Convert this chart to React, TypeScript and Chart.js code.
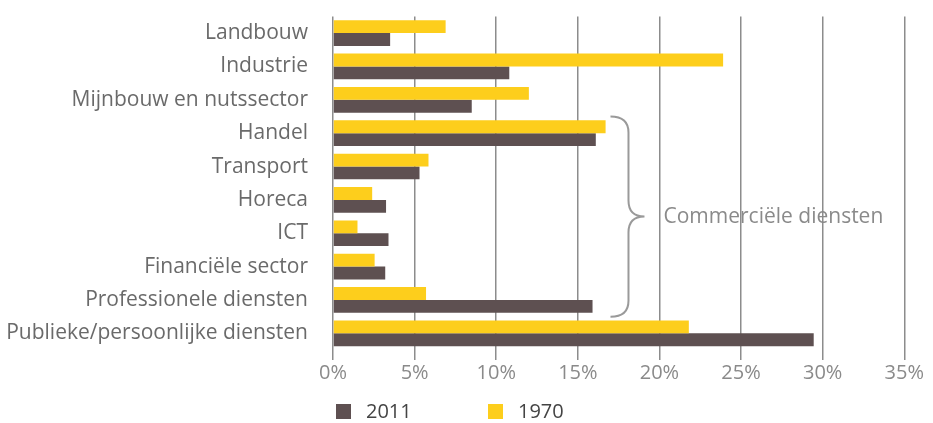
import React, { useEffect, useRef } from "react";
import { Chart, registerables } from "chart.js";

Chart.register(...registerables);

const categories = [
  "Landbouw",
  "Industrie",
  "Mijnbouw en nutssector",
  "Handel",
  "Transport",
  "Horeca",
  "ICT",
  "Financiële sector",
  "Professionele diensten",
  "Publieke/persoonlijke diensten",
];
const values1970 = [6.9, 23.9, 12.0, 16.7, 5.85, 2.4, 1.5, 2.55, 5.7, 21.8];
const values2011 = [3.5, 10.8, 8.5, 16.1, 5.3, 3.25, 3.4, 3.2, 15.9, 29.45];
const seriesNames = ["1970", "2011"];
const xMax = 35;
const xStep = 5;
const braceLabel = "Commerciële diensten";
const braceFrom = 3;
const braceTo = 8;
const braceAt = 17;

const YELLOW = "#FDCE1C";
const BROWN = "#5E5051";
const FONT = "'Open Sans', sans-serif";

const bracePlugin = {
  id: "brace",
  afterDatasetsDraw(chart: any) {
    const { ctx, scales } = chart;
    const x = scales.x;
    const y = scales.y;
    const x0 = x.getPixelForValue(braceAt);
    const step = y.getPixelForValue(1) - y.getPixelForValue(0);
    const top = y.getPixelForValue(braceFrom) - step / 2;
    const bot = y.getPixelForValue(braceTo) + step / 2;
    const mid = (top + bot) / 2;
    const w = 18;
    const tip = 16;
    const r = 16;
    ctx.save();
    ctx.strokeStyle = "#9a9a9a";
    ctx.lineWidth = 2;
    ctx.beginPath();
    ctx.moveTo(x0, top);
    ctx.quadraticCurveTo(x0 + w, top, x0 + w, top + r);
    ctx.lineTo(x0 + w, mid - r);
    ctx.quadraticCurveTo(x0 + w, mid, x0 + w + tip, mid);
    ctx.quadraticCurveTo(x0 + w, mid, x0 + w, mid + r);
    ctx.lineTo(x0 + w, bot - r);
    ctx.quadraticCurveTo(x0 + w, bot, x0, bot);
    ctx.stroke();
    ctx.fillStyle = "#8a8a8a";
    ctx.font = `21px ${FONT}`;
    ctx.textAlign = "left";
    ctx.textBaseline = "middle";
    ctx.fillText(braceLabel, x0 + 53, mid);
    ctx.restore();
  },
};

export default function App() {
  const ref = useRef<HTMLCanvasElement | null>(null);
  useEffect(() => {
    if (!ref.current) return;
    const chart = new Chart(ref.current, {
      type: "bar",
      data: {
        labels: categories,
        datasets: [
          {
            label: seriesNames[0],
            data: values1970,
            backgroundColor: YELLOW,
            categoryPercentage: 0.77,
            barPercentage: 1,
          },
          {
            label: seriesNames[1],
            data: values2011,
            backgroundColor: BROWN,
            categoryPercentage: 0.77,
            barPercentage: 1,
          },
        ],
      },
      options: {
        indexAxis: "y",
        animation: false,
        responsive: true,
        maintainAspectRatio: false,
        layout: { padding: { top: 8, right: 18, left: 0, bottom: 0 } },
        plugins: {
          legend: { display: false },
          tooltip: { enabled: false },
          title: { display: false },
        },
        scales: {
          x: {
            min: 0,
            max: xMax,
            afterFit: (s: any) => {
              s.height = 48;
            },
            ticks: {
              stepSize: xStep,
              padding: 1,
              color: "#8a8a8a",
              font: { family: FONT, size: 20 },
              callback: (v: any) => `${v}%`,
            },
            grid: {
              color: "#8c8c8c",
              lineWidth: 1.5,
              drawTicks: true,
              tickLength: 10,
              tickColor: "#8c8c8c",
            },
            border: { display: false },
          },
          y: {
            afterFit: (s: any) => {
              s.width = 325;
            },
            ticks: {
              padding: 0,
              color: "#6a6a6a",
              font: { family: FONT, size: 21, lineHeight: 0.8 },
              autoSkip: false,
            },
            grid: { display: false, drawTicks: true, tickLength: 25, tickColor: "rgba(0,0,0,0)" },
            border: { display: false },
          },
        },
      },
      plugins: [bracePlugin],
    });
    return () => chart.destroy();
  }, []);

  const legendItem = (color: string, text: string, left: number) => (
    <div
      style={{
        position: "absolute",
        left,
        top: 0,
        display: "flex",
        alignItems: "center",
        height: 20,
      }}
    >
      <div style={{ width: 15, height: 15, background: color, marginRight: 15 }} />
      <span style={{ fontFamily: FONT, fontSize: 20, lineHeight: "20px", color: "#444" }}>{text}</span>
    </div>
  );

  return (
    <div style={{ position: "relative", width: 917, height: 415 }}>
      <div style={{ position: "relative", width: 917, height: 390 }}>
        <canvas ref={ref} />
      </div>
      <div style={{ position: "absolute", left: 0, top: 393, width: 917, height: 20 }}>
        {legendItem(BROWN, seriesNames[1], 328)}
        {legendItem(YELLOW, seriesNames[0], 480)}
      </div>
    </div>
  );
}
